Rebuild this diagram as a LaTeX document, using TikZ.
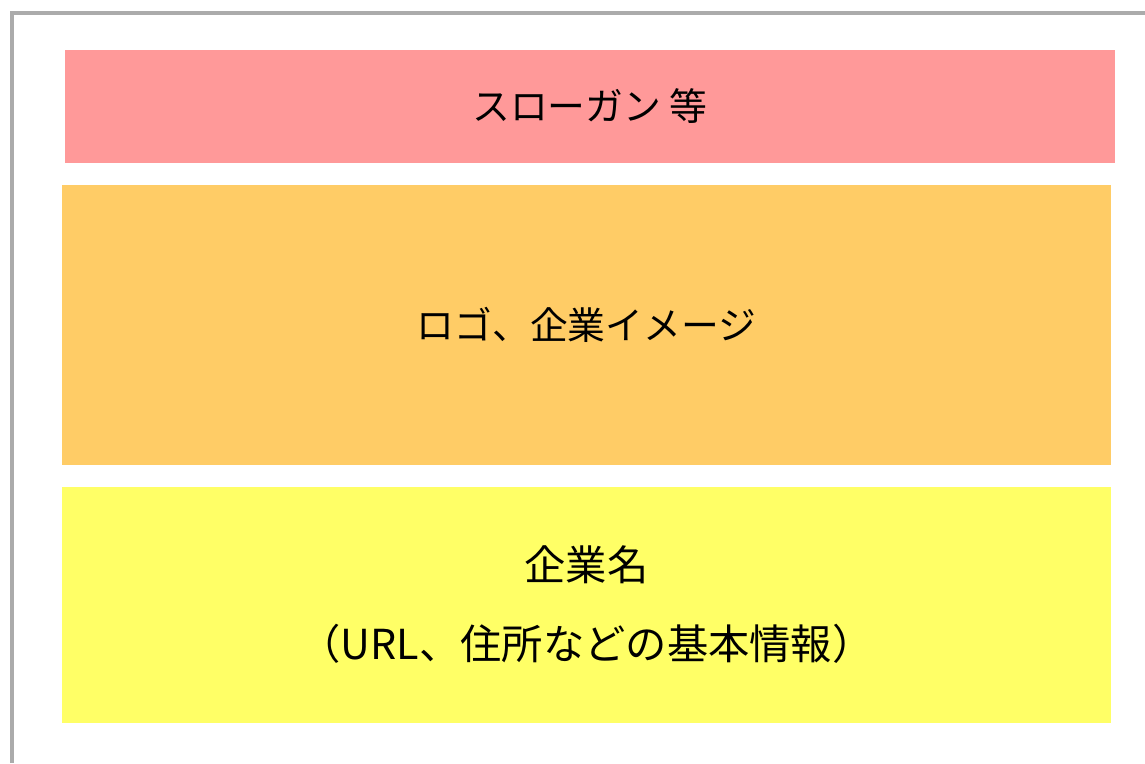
\documentclass[tikz,border=0pt]{standalone}
\usepackage{fontspec}
\setmainfont{Noto Sans CJK JP}
\usepackage{tikz}
\usetikzlibrary{positioning}
\definecolor{slogpink}{HTML}{FF9999}
\definecolor{logoorange}{HTML}{FFCC66}
\definecolor{nameyellow}{HTML}{FFFF66}
\definecolor{framegray}{HTML}{ABABAB}
\tikzstyle{band} = [rectangle, minimum width=21cm, inner sep=0pt, outer sep=0pt, text centered, align=center, font=\fontsize{21.5pt}{43pt}\selectfont]
\tikzstyle{frame} = [line width=2.3pt, draw=framegray]

\begin{document}
\begin{tikzpicture}[node distance=0.44cm]
	\useasboundingbox (0,0) rectangle (22.9,15.26);
	
	\coordinate (fb) at (0.24,0);
	\coordinate (fc) at (0.24,15.0);
	\coordinate (fr) at (22.9,15.0);
	\draw [frame] (fb) -- (fc) -- (fr);
	
	\node (slogan) [band, fill=slogpink, minimum height=2.26cm] at (11.8,13.13) {スローガン 等};
	\node (logo) [band, fill=logoorange, minimum height=5.6cm, minimum width=20.98cm, below=of slogan, xshift=-0.07cm] {ロゴ、企業イメージ};
	\node (corp) [band, fill=nameyellow, minimum height=4.72cm, minimum width=20.98cm, below=of logo, font=\fontsize{23.5pt}{45pt}\selectfont] {企業名\\（URL、住所などの基本情報）};
\end{tikzpicture}
\end{document}
